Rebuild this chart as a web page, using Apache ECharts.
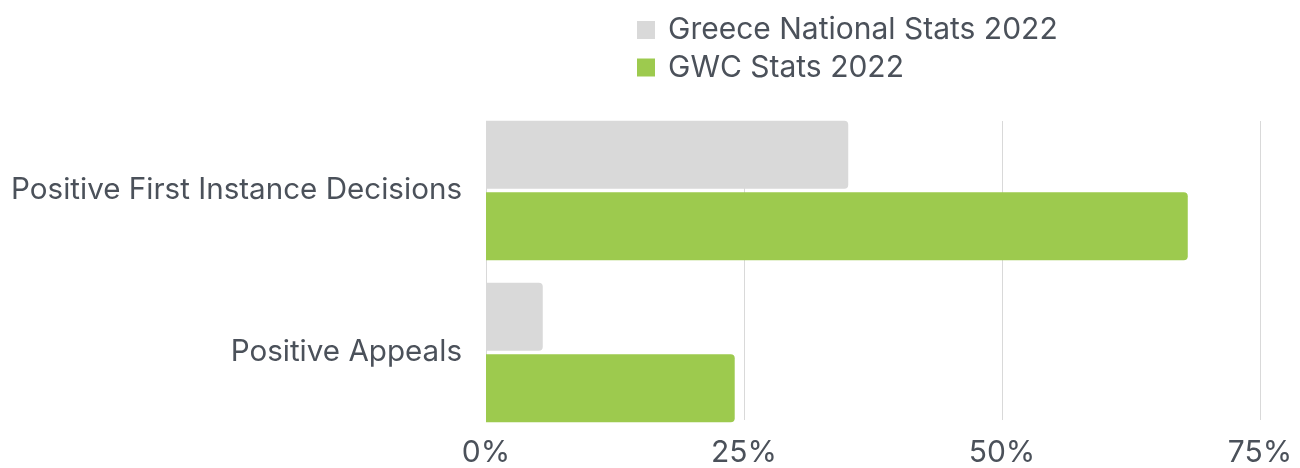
<!DOCTYPE html>
<html>
<head>
<meta charset="utf-8">
<script src="https://cdn.jsdelivr.net/npm/echarts@6/dist/echarts.min.js"></script>
<style>
  html, body { margin: 0; padding: 0; background: #fff; }
  #chart { width: 1300px; height: 468px; }
</style>
</head>
<body>
<div id="chart"></div>
<script>
  // data
  var categories = ['Positive First Instance Decisions', 'Positive Appeals'];
  var seriesNames = ['Greece National Stats 2022', 'GWC Stats 2022'];
  var greeceValues = [35.1, 5.5];
  var gwcValues = [68.0, 24.1];
  var xTicks = [0, 25, 50, 75];

  var textColor = '#4b515a';
  var fontFamily = 'Inter, "Noto Sans", sans-serif';

  var chart = echarts.init(document.getElementById('chart'));
  var option = {
    animation: false,
    legend: {
      orient: 'vertical',
      left: 632,
      top: 10,
      itemWidth: 18,
      itemHeight: 18,
      itemGap: 7.5,
      icon: 'rect',
      data: seriesNames,
      textStyle: { color: textColor, fontSize: 30, fontFamily: fontFamily, padding: [0, 0, 0, 8], lineHeight: 30 }
    },
    grid: [
      // grid for the gridlines and tick labels
      { left: 486, right: 40, top: 121, bottom: 46 },
      // grid for the bars
      { left: 486, right: 40, top: 109.5, bottom: 34.5 }
    ],
    xAxis: [{
      gridIndex: 0,
      type: 'value',
      min: xTicks[0],
      max: xTicks[xTicks.length - 1],
      interval: 25,
      axisLine: { show: false },
      axisTick: { show: false },
      splitLine: { show: true, lineStyle: { color: '#d9d9d9', width: 1 } },
      axisLabel: {
        color: textColor, fontSize: 30, fontFamily: fontFamily, margin: 18,
        formatter: function (v) { return v + '%'; }
      }
    }, {
      gridIndex: 1,
      type: 'value',
      min: xTicks[0],
      max: xTicks[xTicks.length - 1],
      show: false
    }],
    yAxis: [{
      gridIndex: 0,
      type: 'category',
      data: categories,
      inverse: true,
      show: false
    }, {
      gridIndex: 1,
      type: 'category',
      data: categories,
      inverse: true,
      axisLine: { show: false },
      axisTick: { show: false },
      axisLabel: { color: textColor, fontSize: 29.6, fontFamily: fontFamily, margin: 24 }
    }],
    series: [{
      name: seriesNames[0],
      type: 'bar',
      xAxisIndex: 1,
      yAxisIndex: 1,
      data: greeceValues,
      barWidth: 68,
      barGap: '5%',
      itemStyle: { color: '#d9d9d9', borderRadius: [0, 4, 4, 0] }
    }, {
      name: seriesNames[1],
      type: 'bar',
      xAxisIndex: 1,
      yAxisIndex: 1,
      data: gwcValues,
      barWidth: 68,
      barGap: '5%',
      itemStyle: { color: '#9dca4e', borderRadius: [0, 4, 4, 0] }
    }]
  };
  chart.setOption(option);
</script>
</body>
</html>
